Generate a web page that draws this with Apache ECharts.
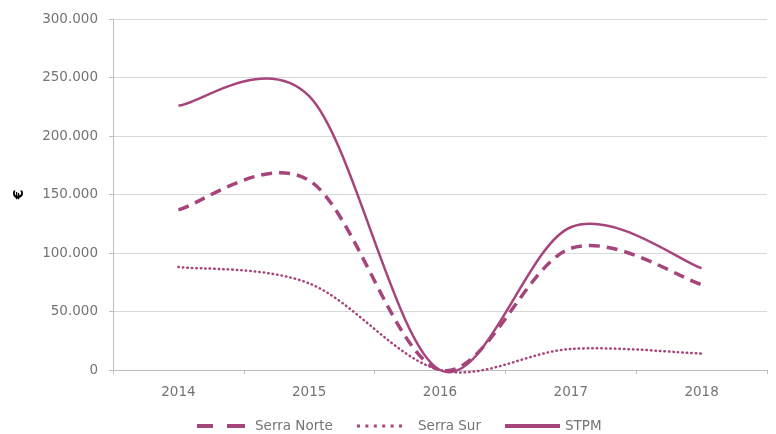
<!DOCTYPE html>
<html><head><meta charset="utf-8">
<style>html,body{margin:0;padding:0;background:#fff}#c{width:776px;height:434px}</style>
<script src="https://cdn.jsdelivr.net/npm/echarts@6/dist/echarts.min.js"></script>
</head><body><div id="c"></div>
<script>
const years = ['2014','2015','2016','2017','2018'];
const serraNorte = [137000, 162000, 0, 104000, 73000];
const serraSur = [88000, 74000, 0, 18000, 14000];
const stpm = [226000, 234000, 0, 122000, 87000];
const color = '#a6457c';
const fontFamily = 'DejaVu Sans';
const labelColor = '#747474';
const fmt = v => v === 0 ? '0' : String(v).replace(/\B(?=(\d{3})+(?!\d))/g, '.');

// Smoothed line (Catmull-Rom style, like spreadsheet smoothed lines) drawn through the axes' scales
function smoothSeries(name, values, style) {
  return {
    name: name, type: 'custom', data: values.map((v, i) => [i, v]),
    itemStyle: {color: color}, clip: false, silent: true,
    encode: {x: 0, y: 1},
    renderItem: function (params, api) {
      if (params.dataIndex !== 0) return null;
      const pts = values.map((v, i) => api.coord([i, v]));
      const n = pts.length;
      let d = 'M' + pts[0][0] + ',' + pts[0][1];
      for (let i = 0; i < n - 1; i++) {
        const p0 = pts[Math.max(i - 1, 0)], p1 = pts[i], p2 = pts[i + 1], p3 = pts[Math.min(i + 2, n - 1)];
        const c1x = p1[0] + (p2[0] - p0[0]) / 6, c1y = p1[1] + (p2[1] - p0[1]) / 6;
        const c2x = p2[0] - (p3[0] - p1[0]) / 6, c2y = p2[1] - (p3[1] - p1[1]) / 6;
        d += ' C' + c1x + ',' + c1y + ' ' + c2x + ',' + c2y + ' ' + p2[0] + ',' + p2[1];
      }
      return {
        type: 'path', shape: {pathData: d},
        style: Object.assign({fill: 'none', stroke: color}, style)
      };
    }
  };
}

function legendItem(name, left, width, icon, pad) {
  return {
    left: left, bottom: 1, padding: 0, itemWidth: width, itemHeight: 4,
    selectedMode: false,
    textStyle: {color: labelColor, fontSize: 13.5, fontFamily: fontFamily, padding: [0, 0, 0, pad]},
    data: [{name: name, icon: icon, itemStyle: {color: color}}]
  };
}

const chart = echarts.init(document.getElementById('c'));
chart.setOption({
  animation: false,
  textStyle: {fontFamily: fontFamily},
  grid: {left: 113, right: 9, top: 19, bottom: 64},
  legend: [
    legendItem('Serra Norte', 197, 48, 'path://M0,0h16v4h-16zM30,0h18v4h-18z', 5),
    legendItem('Serra Sur', 357, 45, 'path://M0,0h3v3h-3zM8.4,0h3v3h-3zM16.8,0h3v3h-3zM25.2,0h3v3h-3zM33.6,0h3v3h-3zM42,0h3v3h-3z', 11),
    legendItem('STPM', 505, 55, 'path://M0,0h55v4h-55z', 0)
  ],
  xAxis: {
    type: 'category', data: years, boundaryGap: true,
    axisLine: {lineStyle: {color: '#bfbfbf'}},
    axisTick: {show: true, lineStyle: {color: '#bfbfbf'}, length: 4},
    axisLabel: {color: labelColor, fontSize: 13.5, margin: 15}
  },
  yAxis: {
    type: 'value', min: 0, max: 300000, interval: 50000,
    name: '€', nameLocation: 'middle', nameRotate: 90, nameGap: 87,
    nameTextStyle: {color: '#000', fontWeight: 'bold', fontSize: 14},
    axisLine: {show: true, lineStyle: {color: '#bfbfbf'}},
    axisTick: {show: true, lineStyle: {color: '#bfbfbf'}, length: 4},
    axisLabel: {color: labelColor, fontSize: 13.5, margin: 15, formatter: fmt},
    splitLine: {lineStyle: {color: '#d9d9d9'}}
  },
  series: [
    smoothSeries('Serra Norte', serraNorte, {lineWidth: 3.5, lineDash: [11, 7]}),
    smoothSeries('Serra Sur', serraSur, {lineWidth: 2.5, lineDash: [0.5, 4], lineCap: 'round'}),
    smoothSeries('STPM', stpm, {lineWidth: 2.5})
  ]
});
</script></body></html>
